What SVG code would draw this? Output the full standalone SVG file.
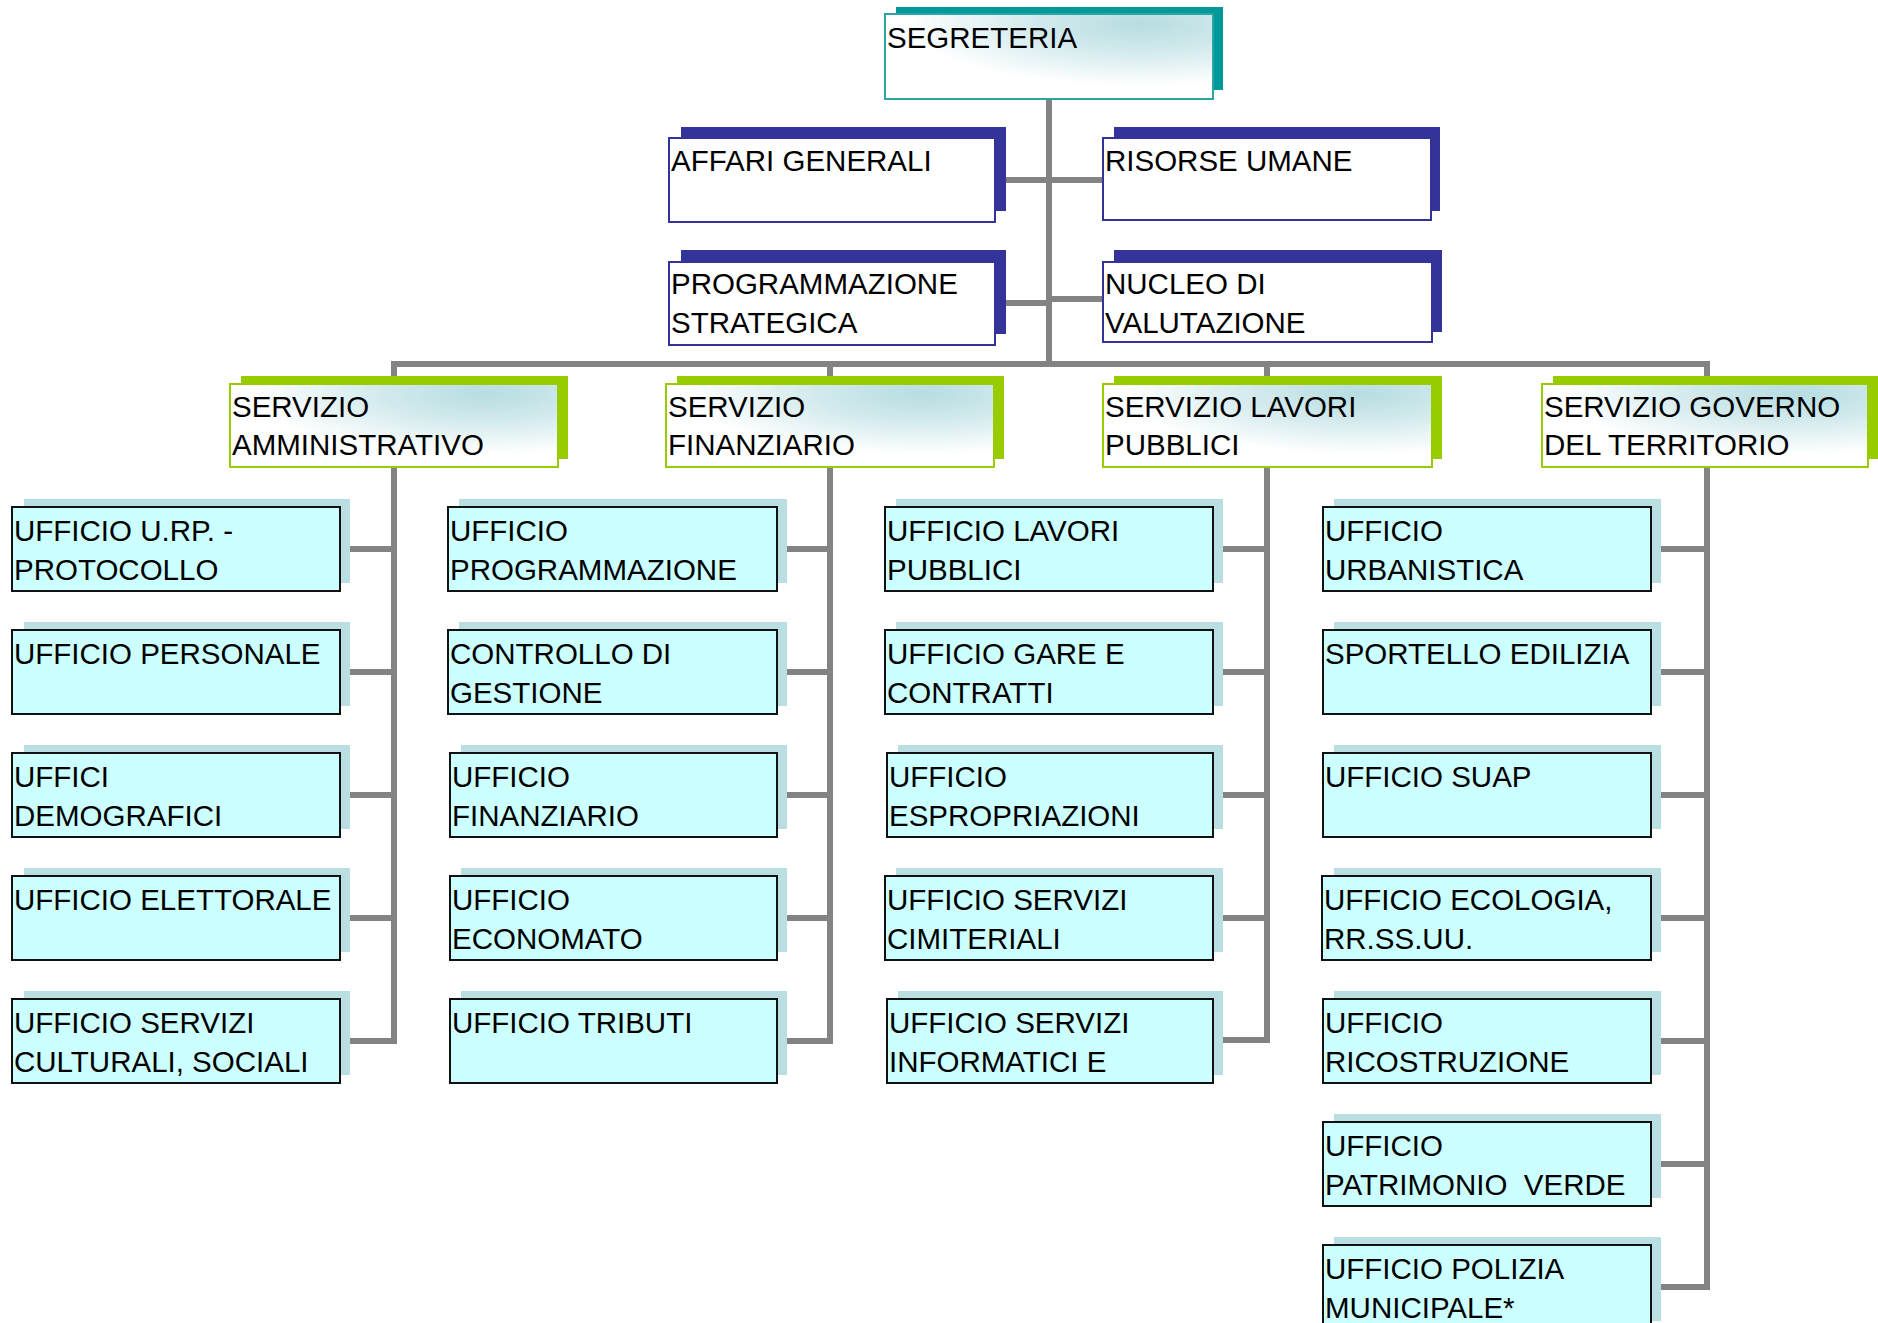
<svg xmlns="http://www.w3.org/2000/svg" width="1878" height="1323" viewBox="0 0 1878 1323">
<defs>
<radialGradient id="gl" cx="0.78" cy="0.12" r="0.72" fx="0.78" fy="0.12">
<stop offset="0" stop-color="#b6dde1"/>
<stop offset="0.45" stop-color="#d3eaed"/>
<stop offset="1" stop-color="#ffffff"/>
</radialGradient>
<style>
text{font-family:"Liberation Sans",Arial,sans-serif;font-size:29.5px;fill:#000;white-space:pre}
.conn{stroke:#838383;stroke-width:6;fill:none}
.tsh{fill:#009999}
.tbx{fill:url(#gl);stroke:#2aa6a6;stroke-width:2}
.ssh{fill:#333399}
.sbx{fill:#fff;stroke:#333399;stroke-width:2}
.gsh{fill:#99cc00}
.gbx{fill:url(#gl);stroke:#99cc00;stroke-width:2}
.csh{fill:#b9dfe2}
.cbx{fill:#ccffff;stroke:#111;stroke-width:2}
</style>
</defs>
<rect width="1878" height="1323" fill="#fff"/>
<g id="connectors">
<line class="conn" x1="1049" y1="99" x2="1049" y2="364"/>
<line class="conn" x1="991" y1="180" x2="1106" y2="180"/>
<line class="conn" x1="991" y1="303" x2="1049" y2="303"/>
<line class="conn" x1="1049" y1="299" x2="1106" y2="299"/>
<polyline class="conn" points="394,400 394,364 1707,364 1707,400"/>
<line class="conn" x1="830" y1="364" x2="830" y2="400"/>
<line class="conn" x1="1267" y1="364" x2="1267" y2="400"/>
<polyline class="conn" points="340,549 394,549 394,1041 340,1041"/>
<line class="conn" x1="394" y1="467" x2="394" y2="549"/>
<line class="conn" x1="340" y1="672" x2="394" y2="672"/>
<line class="conn" x1="340" y1="795" x2="394" y2="795"/>
<line class="conn" x1="340" y1="918" x2="394" y2="918"/>
<polyline class="conn" points="777,549 830,549 830,1041 777,1041"/>
<line class="conn" x1="830" y1="467" x2="830" y2="549"/>
<line class="conn" x1="777" y1="672" x2="830" y2="672"/>
<line class="conn" x1="777" y1="795" x2="830" y2="795"/>
<line class="conn" x1="777" y1="918" x2="830" y2="918"/>
<polyline class="conn" points="1213,549 1267,549 1267,1040 1213,1040"/>
<line class="conn" x1="1267" y1="467" x2="1267" y2="549"/>
<line class="conn" x1="1213" y1="672" x2="1267" y2="672"/>
<line class="conn" x1="1213" y1="795" x2="1267" y2="795"/>
<line class="conn" x1="1213" y1="918" x2="1267" y2="918"/>
<polyline class="conn" points="1651,549 1707,549 1707,1287 1651,1287"/>
<line class="conn" x1="1707" y1="467" x2="1707" y2="549"/>
<line class="conn" x1="1651" y1="672" x2="1707" y2="672"/>
<line class="conn" x1="1651" y1="795" x2="1707" y2="795"/>
<line class="conn" x1="1651" y1="918" x2="1707" y2="918"/>
<line class="conn" x1="1651" y1="1041" x2="1707" y2="1041"/>
<line class="conn" x1="1651" y1="1164" x2="1707" y2="1164"/>
</g>

<g id="segreteria"><rect class="tsh" x="896" y="7" width="327" height="83"/><rect class="tbx" x="885" y="14" width="328" height="85"/><text x="887" y="48">SEGRETERIA</text></g>

<g id="affari-generali"><rect class="ssh" x="681" y="127" width="325" height="84"/><rect class="sbx" x="669" y="138" width="326" height="84"/><text x="671" y="171">AFFARI GENERALI</text></g>
<g id="risorse-umane"><rect class="ssh" x="1114" y="127" width="326" height="84"/><rect class="sbx" x="1103" y="138" width="328" height="82"/><text x="1105" y="171">RISORSE UMANE</text></g>
<g id="programmazione-strategica"><rect class="ssh" x="681" y="250" width="325" height="84"/><rect class="sbx" x="669" y="262" width="326" height="83"/><text x="671" y="294">PROGRAMMAZIONE</text><text x="671" y="333">STRATEGICA</text></g>
<g id="nucleo-valutazione"><rect class="ssh" x="1114" y="250" width="328" height="82"/><rect class="sbx" x="1103" y="262" width="329" height="80"/><text x="1105" y="294">NUCLEO DI</text><text x="1105" y="333">VALUTAZIONE</text></g>

<g id="servizio-amministrativo"><rect class="gsh" x="241" y="376" width="327" height="83"/><rect class="gbx" x="230" y="384" width="328" height="83"/><text x="232" y="417">SERVIZIO</text><text x="232" y="455">AMMINISTRATIVO</text></g>
<g id="servizio-finanziario"><rect class="gsh" x="677" y="376" width="327" height="83"/><rect class="gbx" x="666" y="384" width="328" height="83"/><text x="668" y="417">SERVIZIO</text><text x="668" y="455">FINANZIARIO</text></g>
<g id="servizio-lavori-pubblici"><rect class="gsh" x="1114" y="376" width="328" height="83"/><rect class="gbx" x="1103" y="384" width="329" height="83"/><text x="1105" y="417">SERVIZIO LAVORI</text><text x="1105" y="455">PUBBLICI</text></g>
<g id="servizio-governo-territorio"><rect class="gsh" x="1553" y="376" width="330" height="83"/><rect class="gbx" x="1542" y="384" width="326" height="83"/><text x="1544" y="417">SERVIZIO GOVERNO</text><text x="1544" y="455">DEL TERRITORIO</text></g>

<g id="uff-urp-protocollo"><rect class="csh" x="24" y="499" width="326" height="84"/><rect class="cbx" x="12" y="507" width="328" height="84"/><text x="14" y="541">UFFICIO U.RP. -</text><text x="14" y="580">PROTOCOLLO</text></g>
<g id="uff-personale"><rect class="csh" x="24" y="622" width="326" height="84"/><rect class="cbx" x="12" y="630" width="328" height="84"/><text x="14" y="664">UFFICIO PERSONALE</text></g>
<g id="uff-demografici"><rect class="csh" x="24" y="745" width="326" height="84"/><rect class="cbx" x="12" y="753" width="328" height="84"/><text x="14" y="787">UFFICI</text><text x="14" y="826">DEMOGRAFICI</text></g>
<g id="uff-elettorale"><rect class="csh" x="24" y="868" width="326" height="84"/><rect class="cbx" x="12" y="876" width="328" height="84"/><text x="14" y="910">UFFICIO ELETTORALE</text></g>
<g id="uff-servizi-culturali"><rect class="csh" x="24" y="991" width="326" height="84"/><rect class="cbx" x="12" y="999" width="328" height="84"/><text x="14" y="1033">UFFICIO SERVIZI</text><text x="14" y="1072">CULTURALI, SOCIALI</text></g>

<g id="uff-programmazione"><rect class="csh" x="459" y="499" width="328" height="84"/><rect class="cbx" x="448" y="507" width="329" height="84"/><text x="450" y="541">UFFICIO</text><text x="450" y="580">PROGRAMMAZIONE</text></g>
<g id="controllo-gestione"><rect class="csh" x="459" y="622" width="328" height="84"/><rect class="cbx" x="448" y="630" width="329" height="84"/><text x="450" y="664">CONTROLLO DI</text><text x="450" y="703">GESTIONE</text></g>
<g id="uff-finanziario"><rect class="csh" x="461" y="745" width="326" height="84"/><rect class="cbx" x="450" y="753" width="327" height="84"/><text x="452" y="787">UFFICIO</text><text x="452" y="826">FINANZIARIO</text></g>
<g id="uff-economato"><rect class="csh" x="461" y="868" width="326" height="84"/><rect class="cbx" x="450" y="876" width="327" height="84"/><text x="452" y="910">UFFICIO</text><text x="452" y="949">ECONOMATO</text></g>
<g id="uff-tributi"><rect class="csh" x="461" y="991" width="326" height="84"/><rect class="cbx" x="450" y="999" width="327" height="84"/><text x="452" y="1033">UFFICIO TRIBUTI</text></g>

<g id="uff-lavori-pubblici"><rect class="csh" x="896" y="499" width="327" height="84"/><rect class="cbx" x="885" y="507" width="328" height="84"/><text x="887" y="541">UFFICIO LAVORI</text><text x="887" y="580">PUBBLICI</text></g>
<g id="uff-gare-contratti"><rect class="csh" x="896" y="622" width="327" height="84"/><rect class="cbx" x="885" y="630" width="328" height="84"/><text x="887" y="664">UFFICIO GARE E</text><text x="887" y="703">CONTRATTI</text></g>
<g id="uff-espropriazioni"><rect class="csh" x="898" y="745" width="325" height="84"/><rect class="cbx" x="887" y="753" width="326" height="84"/><text x="889" y="787">UFFICIO</text><text x="889" y="826">ESPROPRIAZIONI</text></g>
<g id="uff-servizi-cimiteriali"><rect class="csh" x="896" y="868" width="327" height="84"/><rect class="cbx" x="885" y="876" width="328" height="84"/><text x="887" y="910">UFFICIO SERVIZI</text><text x="887" y="949">CIMITERIALI</text></g>
<g id="uff-servizi-informatici"><rect class="csh" x="898" y="991" width="325" height="84"/><rect class="cbx" x="887" y="999" width="326" height="84"/><text x="889" y="1033">UFFICIO SERVIZI</text><text x="889" y="1072">INFORMATICI E</text></g>

<g id="uff-urbanistica"><rect class="csh" x="1334" y="499" width="327" height="84"/><rect class="cbx" x="1323" y="507" width="328" height="84"/><text x="1325" y="541">UFFICIO</text><text x="1325" y="580">URBANISTICA</text></g>
<g id="sportello-edilizia"><rect class="csh" x="1334" y="622" width="327" height="84"/><rect class="cbx" x="1323" y="630" width="328" height="84"/><text x="1325" y="664">SPORTELLO EDILIZIA</text></g>
<g id="uff-suap"><rect class="csh" x="1334" y="745" width="327" height="84"/><rect class="cbx" x="1323" y="753" width="328" height="84"/><text x="1325" y="787">UFFICIO SUAP</text></g>
<g id="uff-ecologia"><rect class="csh" x="1334" y="868" width="327" height="84"/><rect class="cbx" x="1322" y="876" width="329" height="84"/><text x="1324" y="910">UFFICIO ECOLOGIA,</text><text x="1324" y="949">RR.SS.UU.</text></g>
<g id="uff-ricostruzione"><rect class="csh" x="1334" y="991" width="327" height="84"/><rect class="cbx" x="1323" y="999" width="328" height="84"/><text x="1325" y="1033">UFFICIO</text><text x="1325" y="1072">RICOSTRUZIONE</text></g>
<g id="uff-patrimonio-verde"><rect class="csh" x="1334" y="1114" width="327" height="84"/><rect class="cbx" x="1323" y="1122" width="328" height="84"/><text x="1325" y="1156">UFFICIO</text><text x="1325" y="1195">PATRIMONIO  VERDE</text></g>
<g id="uff-polizia-municipale"><rect class="csh" x="1334" y="1237" width="327" height="84"/><rect class="cbx" x="1323" y="1245" width="328" height="84"/><text x="1325" y="1279">UFFICIO POLIZIA</text><text x="1325" y="1318">MUNICIPALE*</text></g>
</svg>
